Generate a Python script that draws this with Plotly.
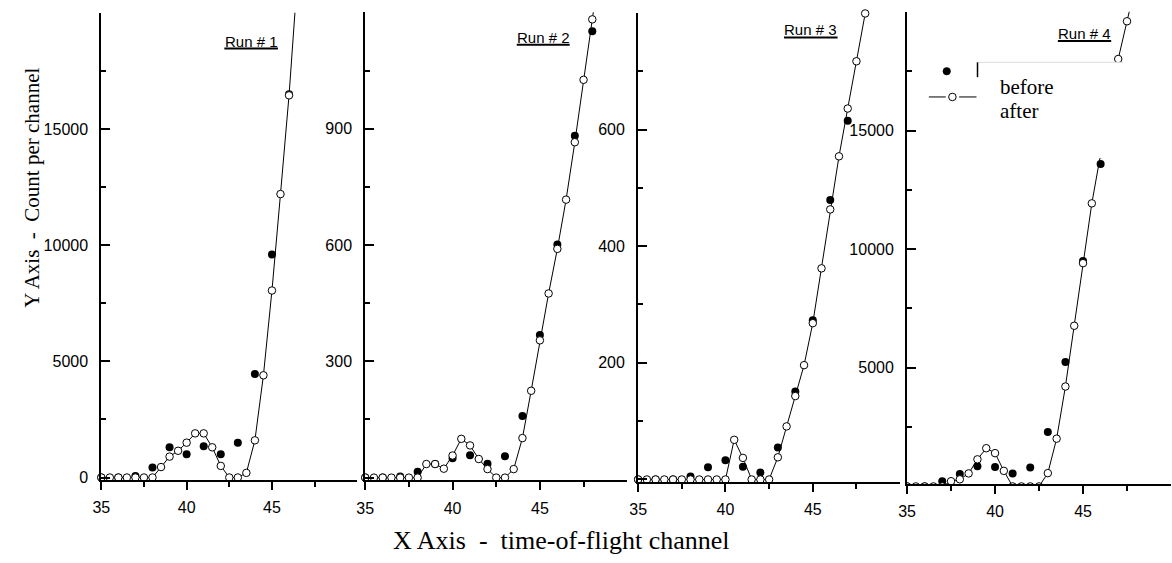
import plotly.graph_objects as go

W, H = 1172, 563

# ---------------- data ----------------
x_after_1 = [35, 35.5, 36, 36.5, 37, 37.5, 38, 38.5, 39, 39.5, 40, 40.5, 41, 41.5, 42, 42.5,
             43, 43.5, 44, 44.5, 45, 45.5, 46, 46.5]
after_1 = [0, 0, 0, 0, 0, 0, 0, 450, 900, 1150, 1500, 1900, 1900, 1300, 500, 0,
           0, 200, 1600, 4400, 8050, 12200, 16450, 21600]
x_before_1 = [35, 36, 37, 38, 39, 40, 41, 42, 43, 44, 45, 46]
before_1 = [0, 0, 60, 430, 1300, 1000, 1350, 1000, 1500, 4450, 9600, 16500]

x_after_2 = [35, 35.5, 36, 36.5, 37, 37.5, 38, 38.5, 39, 39.5, 40, 40.5, 41, 41.5, 42, 42.5,
             43, 43.5, 44, 44.5, 45, 45.5, 46, 46.5, 47, 47.5, 48, 48.5]
after_2 = [0, 0, 0, 0, 0, 0, 0, 35, 35, 23, 57, 100, 83, 48, 22, 0,
           0, 22, 102, 224, 354, 475, 590, 717, 865, 1026, 1182, 1340]
x_before_2 = [35, 36, 37, 38, 39, 40, 41, 42, 43, 44, 45, 46, 47, 48]
before_2 = [0, 0, 3, 15, 35, 50, 58, 36, 55, 159, 368, 601, 882, 1151]

x_after_3 = [35, 35.5, 36, 36.5, 37, 37.5, 38, 38.5, 39, 39.5, 40, 40.5, 41, 41.5, 42, 42.5,
             43, 43.5, 44, 44.5, 45, 45.5, 46, 46.5, 47, 47.5, 48, 48.5]
after_3 = [0, 0, 0, 0, 0, 0, 0, 0, 0, 0, 0, 68, 37, 0, 0, 0,
           38, 91, 143, 196, 268, 362, 463, 554, 636, 717, 799, 880]
x_before_3 = [35, 36, 37, 38, 39, 40, 41, 42, 43, 44, 45, 46, 47]
before_3 = [0, 0, 0, 5, 21, 33, 22, 12, 55, 151, 273, 479, 615]

x_after_4 = [35, 35.5, 36, 36.5, 37, 37.5, 38, 38.5, 39, 39.5, 40, 40.5, 41, 41.5, 42, 42.5,
             43, 43.5, 44, 44.5, 45, 45.5, 46, 46.5, 47, 47.5, 48]
after_4 = [0, 0, 0, 0, 0, 220, 300, 548, 1141, 1610, 1403, 656, 0, 0, 0, 0,
           560, 2012, 4211, 6771, 9410, 11930, 14000, 16000, 18015, 19604, 21200]
x_before_4 = [35, 36, 37, 38, 39, 40, 41, 42, 43, 44, 45, 46]
before_4 = [0, 0, 215, 519, 850, 822, 548, 796, 2290, 5248, 9500, 13588]

run_labels = ["Run # 1", "Run # 2", "Run # 3", "Run # 4"]
x_tickvals = [35, 40, 45]
x_minor = [37.5, 42.5, 47.5]
y_tickvals = [[0, 5000, 10000, 15000], [0, 300, 600, 900], [0, 200, 400, 600], [5000, 10000, 15000]]
y_ticktext = [["0", "5000", "10000", "15000"], ["", "300", "600", "900"],
              ["", "200", "400", "600"], ["5000", "10000", "15000"]]
y_minor = [[2500, 7500, 12500, 17500], [150, 450, 750, 1050], [100, 300, 500, 700],
           [2500, 7500, 12500, 17500]]
y_ranges = [[-100, 20000], [-7, 1200], [-4, 800], [90, 20000]]
legend_labels = ["before", "after"]
x_title = "X Axis\u00a0\u00a0-\u00a0\u00a0time-of-flight channel"
y_title = "Y Axis\u00a0\u00a0-\u00a0\u00a0Count per channel"

data = [
    (x_before_1, before_1, x_after_1, after_1),
    (x_before_2, before_2, x_after_2, after_2),
    (x_before_3, before_3, x_after_3, after_3),
    (x_before_4, before_4, x_after_4, after_4),
]

# ---------------- layout geometry (pixels) ----------------
panels = [  # left, right, top, bottom
    (93, 351, 13, 485),
    (359, 623, 12.5, 485.5),
    (634, 898, 13, 487),
    (905, 1171, 12, 489.5),
]
label_pos = [  # cx, cy (caps center), underline y, underline x0, x1
    (244, 41.5, 49, 217, 271),
    (538.3, 38, 45.3, 511.7, 565),
    (808, 30, 38, 781, 835),
    (1084, 34.3, 41.5, 1057, 1110.7),
]


def fx(px):
    return px / W


def fy(py):
    return 1 - py / H


SANS = "Liberation Sans, Arial, sans-serif"
SERIF = "Liberation Serif, Times New Roman, serif"

fig = go.Figure()
layout = dict(
    width=W, height=H, autosize=False,
    margin=dict(l=0, r=0, t=0, b=0),
    paper_bgcolor="white", plot_bgcolor="white",
    showlegend=False,
)

for i, (xb, yb, xa, ya) in enumerate(data):
    n = i + 1
    xs = "x" if n == 1 else f"x{n}"
    ys = "y" if n == 1 else f"y{n}"
    clip = (n == 4)
    fig.add_trace(go.Scatter(
        x=xb, y=yb, xaxis=xs, yaxis=ys, mode="markers", name=legend_labels[0],
        marker=dict(symbol="circle", size=8, color="black", line=dict(width=0)),
        cliponaxis=clip,
    ))
    fig.add_trace(go.Scatter(
        x=xa, y=ya, xaxis=xs, yaxis=ys, mode="lines+markers", name=legend_labels[1],
        line=dict(color="black", width=1),
        marker=dict(symbol="circle", size=7.5, color="white", line=dict(color="black", width=1)),
        cliponaxis=clip,
    ))
    l, r, t, b = panels[i]
    xk = "xaxis" if n == 1 else f"xaxis{n}"
    yk = "yaxis" if n == 1 else f"yaxis{n}"
    layout[xk] = dict(
        domain=[fx(l), fx(r)], anchor=ys, range=[35, 50],
        showgrid=False, zeroline=False, showline=True, linecolor="black", linewidth=2,
        tickmode="array", tickvals=x_tickvals, ticks="outside", ticklen=8, tickwidth=2,
        tickcolor="black", tickfont=dict(family=SANS, size=16, color="black"),
        minor=dict(tickvals=x_minor, ticks="outside", ticklen=5, tickwidth=2, tickcolor="black"),
        ticklabelstandoff=4,
    )
    layout[yk] = dict(
        domain=[fy(b), fy(t)], anchor=xs, range=y_ranges[i],
        showgrid=False, zeroline=False, showline=True, linecolor="black", linewidth=2,
        tickmode="array", tickvals=y_tickvals[i], ticktext=y_ticktext[i],
        ticks="inside", ticklen=9, tickwidth=2, tickcolor="black",
        tickfont=dict(family=SANS, size=16, color="black"),
        minor=dict(tickvals=y_minor[i], ticks="inside", ticklen=5, tickwidth=2, tickcolor="black"),
        ticklabelstandoff=8,
    )

annotations = []
shapes = []
for i, lab in enumerate(run_labels):
    cx, cy, uy, ux0, ux1 = label_pos[i]
    annotations.append(dict(
        text=lab, x=fx(cx), y=fy(cy), xref="paper", yref="paper",
        xanchor="center", yanchor="middle", showarrow=False,
        font=dict(family=SANS, size=15, color="black"),
    ))
    shapes.append(dict(type="line", xref="paper", yref="paper",
                       x0=fx(ux0), x1=fx(ux1), y0=fy(uy), y1=fy(uy),
                       line=dict(color="black", width=2), layer="above"))

# axis titles
annotations.append(dict(
    text=x_title, x=fx(556.5), y=fy(546), xref="paper", yref="paper",
    xanchor="center", yanchor="middle", showarrow=False,
    font=dict(family=SERIF, size=26, color="black"),
))
annotations.append(dict(
    text=y_title, x=fx(23), y=fy(190), xref="paper", yref="paper",
    xanchor="center", yanchor="middle", showarrow=False, textangle=-90,
    font=dict(family=SERIF, size=21, color="black"),
))

# legend box (drawn manually, mimicking the original)
shapes.append(dict(type="rect", xref="paper", yref="paper",
                   x0=fx(976), x1=fx(1123), y0=fy(160), y1=fy(63),
                   fillcolor="white", line=dict(width=0), layer="above"))
shapes.append(dict(type="line", xref="paper", yref="paper",
                   x0=fx(976), x1=fx(1123), y0=fy(63), y1=fy(63),
                   line=dict(color="#dddddd", width=1), layer="above"))
shapes.append(dict(type="line", xref="paper", yref="paper",
                   x0=fx(976), x1=fx(976), y0=fy(63), y1=fy(78),
                   line=dict(color="black", width=1.5), layer="above"))
# legend symbols
r = 3.8
shapes.append(dict(type="circle", xref="paper", yref="paper",
                   x0=fx(945 - r), x1=fx(945 + r), y0=fy(72 + r), y1=fy(72 - r),
                   fillcolor="black", line=dict(color="black", width=0.5), layer="above"))
shapes.append(dict(type="line", xref="paper", yref="paper",
                   x0=fx(927), x1=fx(944), y0=fy(98), y1=fy(98),
                   line=dict(color="black", width=1), layer="above"))
shapes.append(dict(type="line", xref="paper", yref="paper",
                   x0=fx(957.5), x1=fx(975), y0=fy(98), y1=fy(98),
                   line=dict(color="black", width=1), layer="above"))
shapes.append(dict(type="circle", xref="paper", yref="paper",
                   x0=fx(950.7 - r), x1=fx(950.7 + r), y0=fy(98 + r), y1=fy(98 - r),
                   fillcolor="white", line=dict(color="black", width=1), layer="above"))
annotations.append(dict(
    text=legend_labels[0], x=fx(996.7), y=fy(88), xref="paper", yref="paper",
    xanchor="left", yanchor="middle", showarrow=False,
    font=dict(family=SERIF, size=21, color="black"),
))
annotations.append(dict(
    text=legend_labels[1], x=fx(996.7), y=fy(112), xref="paper", yref="paper",
    xanchor="left", yanchor="middle", showarrow=False,
    font=dict(family=SERIF, size=21, color="black"),
))

layout["annotations"] = annotations
layout["shapes"] = shapes
fig.update_layout(**layout)
fig.write_html(
    "out.html",
    config={"displayModeBar": False, "staticPlot": True},
    post_script="document.body.style.margin='0';document.body.style.overflow='hidden';",
)
